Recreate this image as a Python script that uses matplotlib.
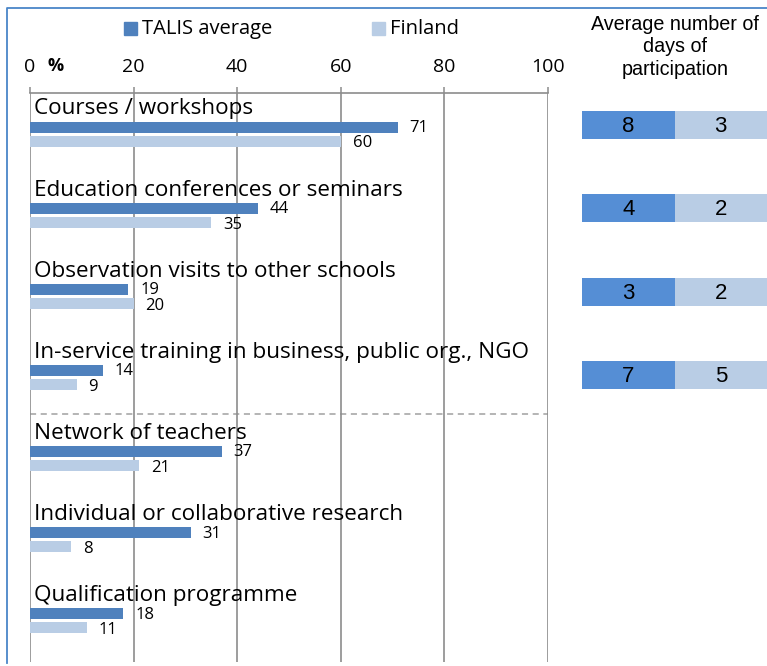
import matplotlib
matplotlib.use("Agg")
import matplotlib.pyplot as plt
from matplotlib.patches import Rectangle
from matplotlib.lines import Line2D
import numpy as np

# ─── Data ────────────────────────────────────────────────────────────────────
categories = [
    "Courses / workshops",
    "Education conferences or seminars",
    "Observation visits to other schools",
    "In-service training in business, public org., NGO",
    "Network of teachers",
    "Individual or collaborative research",
    "Qualification programme",
]
talis_pct = [71, 44, 19, 14, 37, 31, 18]
finland_pct = [60, 35, 20, 9, 21, 8, 11]

days_talis = [8, 4, 3, 7]
days_finland = [3, 2, 2, 5]

series_names = ["TALIS average", "Finland"]
x_ticks = [0, 20, 40, 60, 80, 100]

# ─── Style ───────────────────────────────────────────────────────────────────
C_TALIS = "#4F81BD"
C_FIN = "#B9CDE5"
C_DAYS = "#558ED5"
C_GRID = "#8C8C8C"
C_FRAME = "#4A86C8"
MAIN_FONT = "Open Sans"
PANEL_FONT = "Liberation Sans"

W, H = 767, 666
fig = plt.figure(figsize=(W / 100, H / 100), dpi=100)


def fx(px):
    return px / W


def fy(py):
    return 1 - py / H


# ─── Main bar chart ──────────────────────────────────────────────────────────
ax = fig.add_axes([fx(30), fy(662), fx(548) - fx(30), fy(93) - fy(662)])
n = len(categories)
pos = np.arange(n)
bh = 0.135
off = 0.086

ax.barh(pos - off, talis_pct, height=bh, color=C_TALIS, zorder=3)
ax.barh(pos + off, finland_pct, height=bh, color=C_FIN, zorder=3)

for i in range(n):
    ax.text(0.8, pos[i] - 0.31, categories[i], va="center", ha="left",
            fontsize=16.2, family=MAIN_FONT, zorder=4)
    ax.text(talis_pct[i] + 2.3, pos[i] - off + 0.01, str(talis_pct[i]), va="center",
            fontsize=12, family=MAIN_FONT, zorder=4)
    ax.text(finland_pct[i] + 2.3, pos[i] + off + 0.03, str(finland_pct[i]),
            va="center", fontsize=12, family=MAIN_FONT, zorder=4)

ax.set_xlim(0, 100)
ax.set_ylim(n - 0.494, -0.506)
ax.set_xticks(x_ticks)
ax.set_xticklabels([str(t) for t in x_ticks], family=MAIN_FONT, fontsize=14)
ax.set_yticks([])
ax.xaxis.set_ticks_position("top")
ax.tick_params(axis="x", direction="out", length=4, width=1.1, color=C_GRID, pad=8)
ax.grid(axis="x", color=C_GRID, linewidth=1.2, zorder=0)
for s in ["left", "right", "bottom"]:
    ax.spines[s].set_visible(False)
ax.spines["top"].set_color(C_GRID)
ax.spines["top"].set_linewidth(1.2)

# separator between formal and informal activities
ax.axhline(3.45, color="#A0A0A0", linewidth=1.1, linestyle=(0, (4, 3)), zorder=1)

# "%" beside the 0 tick
fig.text(fx(56), fy(66), "%", fontsize=13, fontweight="bold", family=MAIN_FONT,
         ha="center", va="center")

# ─── Legend ──────────────────────────────────────────────────────────────────
for (x0, color, name) in [(124, C_TALIS, series_names[0]), (372, C_FIN, series_names[1])]:
    fig.patches.append(Rectangle((fx(x0), fy(35)), fx(13), 13 / H, color=color,
                                 transform=fig.transFigure, figure=fig))
    fig.text(fx(x0 + 18), fy(29), name, fontsize=14.5, family=MAIN_FONT,
             va="center", ha="left")

# ─── Days of participation panel ─────────────────────────────────────────────
m = len(days_talis)
axd = fig.add_axes([fx(582), fy(416.7), fx(767) - fx(582), fy(83.3) - fy(416.7)])
dpos = np.arange(m)
axd.barh(dpos, [1] * m, left=0, height=0.336, color=C_DAYS)
axd.barh(dpos, [1] * m, left=1, height=0.336, color=C_FIN)
for i in range(m):
    axd.text(0.5, dpos[i] + 0.02, str(days_talis[i]), ha="center", va="center",
             fontsize=16, family=PANEL_FONT)
    axd.text(1.5, dpos[i] + 0.02, str(days_finland[i]), ha="center", va="center",
             fontsize=16, family=PANEL_FONT)
axd.set_xlim(0, 2)
axd.set_ylim(m - 0.5, -0.5)
axd.axis("off")

fig.text(fx(675), fy(47), "Average number of\ndays of\nparticipation",
         ha="center", va="center", fontsize=14.2, family=PANEL_FONT, linespacing=1.25)

# ─── Blue frame ──────────────────────────────────────────────────────────────
fig.lines.append(Line2D([fx(7), fx(7), 1.0], [fy(663), fy(8), fy(8)],
                        color=C_FRAME, linewidth=1.3, transform=fig.transFigure))

fig.savefig("out.png", dpi=100)
